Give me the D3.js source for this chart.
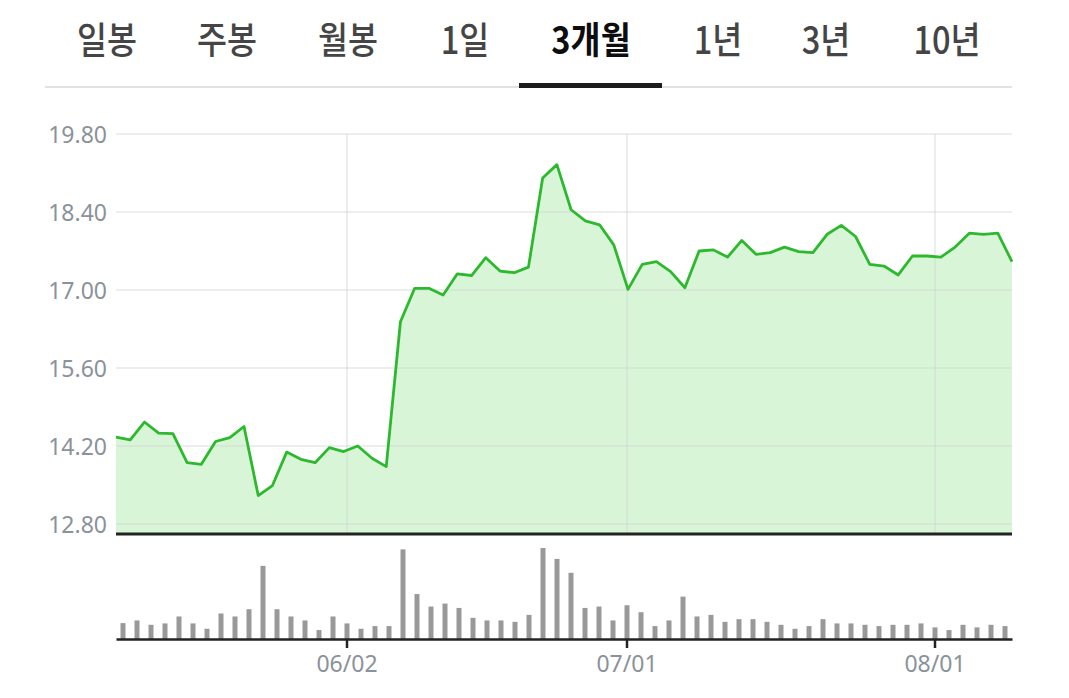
<!DOCTYPE html>
<html>
<head>
<meta charset="utf-8">
<script src="https://cdn.jsdelivr.net/npm/d3@7"></script>
<style>
  html, body { margin: 0; padding: 0; background: #fff; }
  svg { display: block; }
</style>
</head>
<body>
<svg id="chart" width="1069" height="698"></svg>
<script>
// ---- data ----
const tabs = ["일봉", "주봉", "월봉", "1일", "3개월", "1년", "3년", "10년"];
const selectedTab = "3개월";

const prices = [
  14.36, 14.31, 14.63, 14.43, 14.42, 13.90, 13.87, 14.28, 14.35, 14.55,
  13.31, 13.49, 14.09, 13.96, 13.90, 14.17, 14.10, 14.20, 13.98, 13.83,
  16.43, 17.03, 17.03, 16.91, 17.29, 17.26, 17.58, 17.34, 17.31, 17.41,
  19.01, 19.25, 18.44, 18.24, 18.17, 17.81, 17.01, 17.46, 17.51, 17.33,
  17.04, 17.70, 17.72, 17.59, 17.89, 17.64, 17.67, 17.77, 17.69, 17.67,
  18.00, 18.16, 17.96, 17.46, 17.43, 17.27, 17.61, 17.61, 17.59, 17.77,
  18.02, 18.00, 18.02, 17.51
];

const volumes = [
  160, 187, 143, 157, 227, 157, 103, 257, 227, 300,
  737, 300, 227, 187, 90, 227, 157, 103, 130, 130,
  903, 453, 327, 357, 313, 213, 187, 187, 173, 243,
  917, 807, 667, 313, 327, 187, 340, 270, 130, 187,
  427, 227, 243, 173, 200, 200, 173, 143, 103, 130,
  200, 157, 157, 143, 130, 143, 143, 157, 117, 90,
  143, 117, 143, 130
];

const yTicks = [12.80, 14.20, 15.60, 17.00, 18.40, 19.80];
const xTickIndex = [16, 36, 58];
const xTickLabels = ["06/02", "07/01", "08/01"];

// ---- layout ----
const svg = d3.select("#chart");
const left = 116, right = 1012;
const priceTop = 134, priceBottom = 534;
const volTop = 548, volBottom = 639;

const idx = d3.range(prices.length);
const xLine = d3.scalePoint().domain(idx).range([left, right]);
const xBand = d3.scaleBand().domain(idx).range([left, right]);
const y = d3.scaleLinear().domain([12.62, 19.80]).range([priceBottom, priceTop]);
const yVol = d3.scaleLinear().domain([0, d3.max(volumes)]).range([volBottom, volTop]);

// ---- tabs ----
const tabX = [107, 227, 348, 465, 591, 718, 826, 947];
const tabG = svg.append("g");
tabG.selectAll("text").data(tabs).join("text")
  .attr("transform", (d, i) => `translate(${tabX[i]},37) scale(0.96,1.1)`)
  .attr("text-anchor", "middle")
  .attr("dominant-baseline", "central")
  .attr("font-family", "'Noto Sans CJK KR', 'Noto Sans', sans-serif")
  .attr("font-size", 34)
  .attr("font-weight", d => d === selectedTab ? 700 : 500)
  .attr("fill", d => d === selectedTab ? "#0d0d0d" : "#454545")
  .text(d => d);

svg.append("line").attr("x1", 45).attr("x2", 1012).attr("y1", 87).attr("y2", 87)
  .attr("stroke", "#e2e2e2").attr("stroke-width", 2);
svg.append("rect").attr("x", 519).attr("y", 83).attr("width", 143).attr("height", 5)
  .attr("fill", "#1c1c1c");

// ---- area (under grid) ----
const area = d3.area().x((d, i) => xLine(i)).y0(priceBottom).y1(d => y(d));
const line = d3.line().x((d, i) => xLine(i)).y(d => y(d));
svg.append("path").datum(prices).attr("d", area)
  .attr("fill", "#d8f5d8");

// ---- grid ----
const grid = svg.append("g");
grid.selectAll("line.h").data(yTicks).join("line").attr("class", "h")
  .attr("x1", left).attr("x2", right)
  .attr("y1", d => y(d)).attr("y2", d => y(d))
  .attr("stroke", "#d0d0d0").attr("stroke-opacity", 0.5).attr("stroke-width", 1.5);
grid.selectAll("line.v").data(xTickIndex).join("line").attr("class", "v")
  .attr("x1", d => xBand(d) + xBand.bandwidth() / 2)
  .attr("x2", d => xBand(d) + xBand.bandwidth() / 2)
  .attr("y1", priceTop).attr("y2", priceBottom)
  .attr("stroke", "#d0d0d0").attr("stroke-opacity", 0.5).attr("stroke-width", 1.5);

// ---- line ----
svg.append("path").datum(prices).attr("d", line)
  .attr("fill", "none").attr("stroke", "#2db92d").attr("stroke-width", 2.8)
  .attr("stroke-linejoin", "round");

// bottom price axis line
svg.append("line").attr("x1", left).attr("x2", right)
  .attr("y1", priceBottom).attr("y2", priceBottom)
  .attr("stroke", "#222").attr("stroke-width", 3);

// y labels
svg.append("g").selectAll("text").data(yTicks).join("text")
  .attr("x", 107).attr("y", d => y(d))
  .attr("text-anchor", "end").attr("dominant-baseline", "central")
  .attr("font-family", "'Noto Sans', sans-serif").attr("font-size", 23)
  .attr("fill", "#8a929a")
  .text(d => d.toFixed(2));

// ---- volume ----
svg.append("g").selectAll("rect").data(volumes).join("rect")
  .attr("x", (d, i) => xBand(i) + xBand.bandwidth() / 2 - 2.5)
  .attr("width", 5)
  .attr("y", d => yVol(d))
  .attr("height", d => volBottom - yVol(d))
  .attr("fill", "#999999");

const xAxis = d3.axisBottom(xBand)
  .tickValues(xTickIndex)
  .tickFormat(d => xTickLabels[xTickIndex.indexOf(d)])
  .tickSize(9).tickSizeOuter(0).tickPadding(8);
const ax = svg.append("g").attr("transform", `translate(0,${volBottom})`).call(xAxis);
ax.select(".domain").attr("stroke", "#222").attr("stroke-width", 2.5);
ax.selectAll(".tick line").attr("stroke", "#222").attr("stroke-width", 2.5);
ax.selectAll(".tick text")
  .attr("font-family", "'Noto Sans', sans-serif").attr("font-size", 23)
  .attr("fill", "#8a929a");
</script>
</body>
</html>
